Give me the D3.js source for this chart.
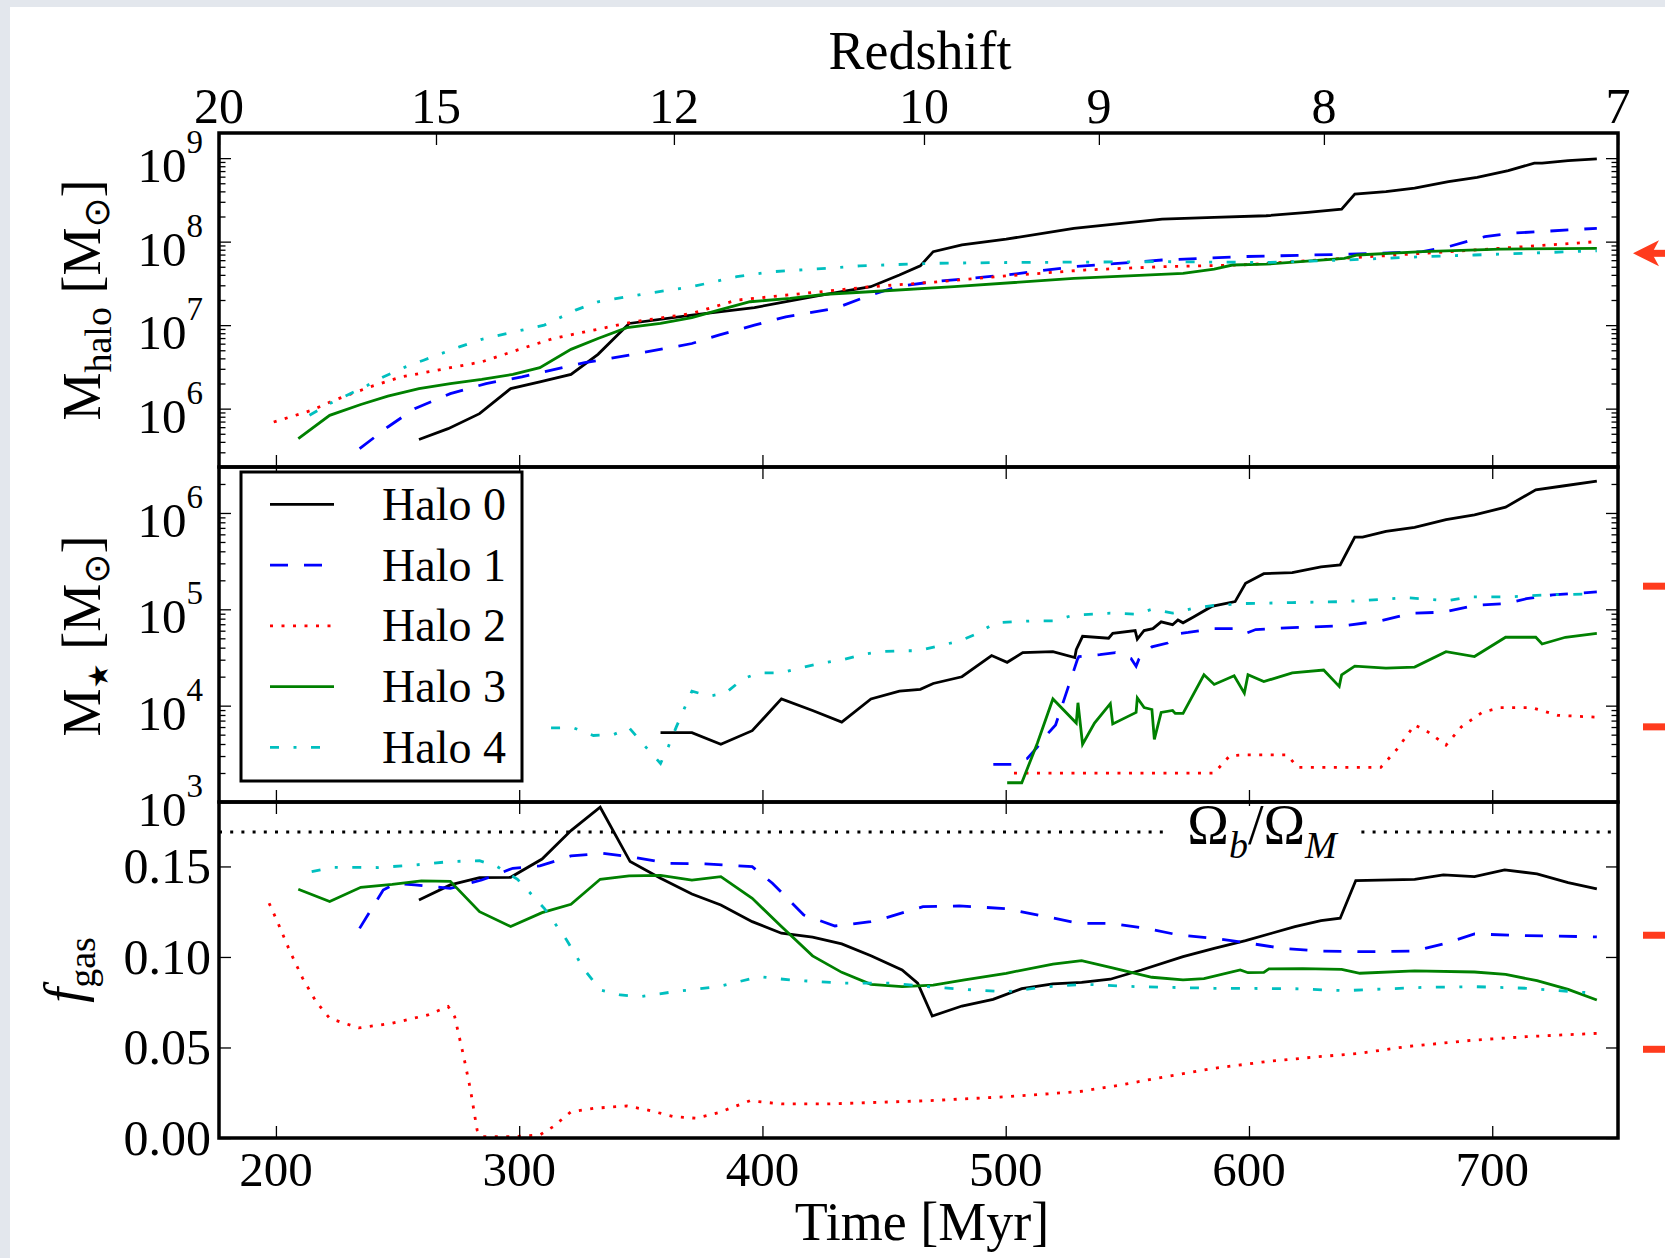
<!DOCTYPE html>
<html>
<head>
<meta charset="utf-8">
<script src="https://cdn.jsdelivr.net/npm/d3@7"></script>
<style>
body { margin: 0; background: #fff; }
svg text { font-family: "Liberation Serif", "Times New Roman", serif; fill: #000; }
</style>
</head>
<body>
<div id="chart"></div>
<script>
// ---- data: [time Myr, value]; mass panels hold log10(M / Msun) ----
var timeTicks = [200, 300, 400, 500, 600, 700];
var redshiftLabels = ["20", "15", "12", "10", "9", "8", "7"];
var redshiftAges = [176.6, 265.8, 363.6, 466.4, 538.3, 630.8, 751.7];
var haloNames = ["Halo 0", "Halo 1", "Halo 2", "Halo 3", "Halo 4"];
var haloColors = ["#000000", "#0000ff", "#ff0000", "#008000", "#00bfbf"];
var haloDashes = [null, "18 16", "3 8.5", null, "9 14.5 3 14.5"];
var baryonFraction = 0.169;

var halo0Mhalo = [[258.8,5.63],[270.8,5.76],[283.7,5.94],[296.5,6.24],[308.5,6.32],[321.3,6.41],[332.4,6.65],[345.2,7.02],[371,7.12],[396.7,7.21],[422.5,7.35],[444.5,7.46],[456.3,7.60],[464.9,7.71],[470.2,7.88],[482,7.96],[500.2,8.03],[528,8.16],[564.3,8.27],[585.7,8.29],[607.1,8.31],[624.2,8.35],[638.1,8.39],[643.5,8.57],[656.3,8.60],[668.1,8.64],[682,8.72],[693.8,8.77],[706.6,8.85],[717.3,8.94],[720.5,8.94],[731.2,8.97],[743,8.99]];
var halo1Mhalo = [[234.4,5.52],[246,5.78],[257,6.00],[271.7,6.18],[286.4,6.30],[301.1,6.38],[326.9,6.55],[345.2,6.64],[371,6.78],[382,6.88],[396.7,7.00],[409.6,7.10],[429.8,7.20],[444.5,7.36],[455.3,7.46],[470.2,7.52],[500.2,7.60],[528,7.70],[564.3,7.78],[596.4,7.82],[641.3,7.85],[671.3,7.88],[682,7.94],[697,8.06],[707.7,8.10],[743,8.16]];
var halo2Mhalo = [[199.1,5.84],[214.7,5.98],[223.9,6.10],[238.6,6.26],[251.5,6.38],[269.9,6.48],[284.6,6.56],[301.1,6.72],[314,6.84],[330.5,6.94],[347.1,7.04],[371,7.14],[389.4,7.30],[417,7.38],[444.5,7.46],[468.1,7.51],[500.2,7.59],[532.3,7.66],[564.3,7.70],[596.4,7.72],[628.5,7.78],[660.6,7.84],[692.7,7.90],[718.4,7.95],[743,8.00]];
var halo3Mhalo = [[209.2,5.64],[222.1,5.92],[234.9,6.05],[246,6.15],[258.8,6.24],[271.7,6.30],[284.6,6.35],[297.4,6.41],[308.5,6.49],[321.3,6.71],[332.4,6.84],[344.3,6.97],[358.1,7.02],[371,7.09],[382,7.18],[394.9,7.28],[411.4,7.32],[426.1,7.37],[444,7.40],[478.8,7.46],[528,7.56],[572.9,7.62],[585.7,7.67],[593.2,7.72],[607.1,7.73],[639.2,7.80],[644.6,7.84],[671.3,7.88],[703.4,7.91],[743,7.92]];
var halo4Mhalo = [[213.8,5.92],[222.1,6.06],[237.7,6.28],[244.1,6.38],[253.3,6.50],[260.7,6.58],[275.4,6.74],[284.6,6.83],[301.1,6.94],[310.3,7.00],[323.2,7.18],[332.4,7.28],[352.6,7.38],[371,7.46],[389.4,7.58],[404.1,7.64],[426.1,7.68],[440,7.71],[470.2,7.74],[500.2,7.75],[564.3,7.76],[607.1,7.75],[639.2,7.78],[671.3,7.82],[692.7,7.84],[743,7.89]];

var halo0Mstar = [[358.1,3.72],[371,3.72],[382.9,3.60],[395.8,3.74],[407.8,4.07],[420.6,3.95],[432.6,3.83],[444.6,4.07],[456.3,4.15],[464.9,4.17],[470.2,4.23],[482,4.30],[494.2,4.52],[500.6,4.45],[507,4.55],[519.4,4.56],[528.4,4.50],[529,4.58],[531.6,4.72],[542.3,4.70],[544,4.75],[553.2,4.78],[554.1,4.69],[556.9,4.78],[560.5,4.80],[563.9,4.87],[568.6,4.84],[570.8,4.89],[572.9,4.86],[577.2,4.92],[584.7,5.03],[594.3,5.08],[598.6,5.27],[606.1,5.37],[617.8,5.38],[629.6,5.44],[637.5,5.46],[643.5,5.75],[646.7,5.75],[656.3,5.81],[668.1,5.85],[681,5.93],[692.7,5.98],[705.5,6.06],[717.9,6.24],[729,6.28],[743,6.33]];
var halo1Mstar = [[494.9,3.39],[502.3,3.39],[508.8,3.45],[513,3.57],[517.3,3.71],[520.5,3.80],[525.8,4.20],[529.5,4.48],[530.1,4.51],[538.7,4.53],[545.1,4.55],[551.5,4.49],[553.6,4.41],[554.7,4.48],[560.1,4.61],[566.5,4.65],[571.8,4.75],[575,4.76],[585.7,4.80],[594.3,4.80],[598.6,4.75],[602.8,4.79],[617.8,4.81],[639.2,4.83],[654.2,4.88],[667,4.96],[679.9,4.97],[692.7,5.04],[705.5,5.06],[714.1,5.11],[724.8,5.15],[743,5.18]];
var halo2Mstar = [[503.4,3.30],[585.7,3.30],[592.1,3.48],[598.6,3.49],[615.7,3.49],[620,3.36],[654.2,3.36],[660.6,3.54],[668.1,3.80],[673.4,3.73],[681,3.59],[687.3,3.78],[695.9,3.93],[703.4,3.98],[716.2,3.98],[726.9,3.90],[743,3.88]];
var halo3Mstar = [[500.6,3.20],[506.6,3.20],[513,3.61],[519.4,4.07],[529,3.82],[529.7,4.03],[531.6,3.60],[536.5,3.82],[543,4.02],[544,3.81],[553.6,3.93],[554.1,4.08],[556.9,3.98],[560.1,3.96],[561.1,3.65],[563.9,3.93],[568.6,3.95],[569.7,3.92],[572.9,3.92],[581.5,4.32],[585.7,4.22],[593.9,4.31],[598.1,4.13],[599.6,4.32],[606.1,4.25],[617.8,4.34],[630.7,4.37],[637.1,4.20],[638.1,4.32],[643.5,4.41],[656.3,4.39],[668.1,4.40],[681,4.56],[692.7,4.51],[705.5,4.71],[717.9,4.71],[720.5,4.64],[730.1,4.71],[743,4.75]];
var halo4Mstar = [[313.1,3.77],[322.3,3.77],[330.5,3.69],[338.8,3.70],[345.2,3.77],[351.7,3.58],[358.1,3.40],[361.4,3.58],[364.6,3.78],[371,4.15],[378.3,4.10],[384.8,4.13],[392.1,4.28],[398.6,4.34],[407.8,4.34],[415.2,4.39],[424.3,4.44],[433.5,4.48],[440.9,4.53],[448.2,4.56],[457,4.57],[463.8,4.57],[480.9,4.67],[488.4,4.75],[495.9,4.86],[510.9,4.88],[519.4,4.88],[528,4.94],[543,4.96],[553.6,4.95],[560.1,5.00],[568.6,4.96],[577.2,5.01],[585.7,5.04],[598.6,5.06],[617.8,5.07],[639.2,5.08],[664.9,5.12],[682,5.09],[690.5,5.13],[707.7,5.13],[722.6,5.15],[743,5.16]];

var halo0Fgas = [[258.8,0.1315],[271.7,0.1398],[283.7,0.1438],[296.5,0.1440],[309.4,0.1541],[321.3,0.1698],[333.3,0.1827],[345.6,0.1527],[358.1,0.1435],[371,0.1348],[382.9,0.1287],[395.8,0.1195],[407.8,0.1131],[420.6,0.1109],[432.6,0.1072],[444.6,0.1007],[457.4,0.0928],[463.8,0.0855],[469.8,0.0674],[482,0.0729],[494.8,0.0766],[506.6,0.0825],[519.4,0.0851],[531.2,0.0860],[543,0.0877],[555.8,0.0928],[572.9,0.1002],[585.7,0.1048],[598.6,0.1090],[609.3,0.1131],[618.9,0.1168],[629.6,0.1201],[637.5,0.1214],[643.9,0.1422],[668.1,0.1429],[679.9,0.1453],[692.7,0.1444],[705.1,0.1481],[718.4,0.1459],[731.2,0.1411],[743,0.1376]];
var halo1Fgas = [[234.4,0.1158],[244.1,0.1370],[249.6,0.1407],[257,0.1398],[271.7,0.1379],[284.6,0.1425],[297.4,0.1490],[308.5,0.1503],[321.3,0.1558],[334.2,0.1573],[347.1,0.1551],[361.8,0.1517],[376.5,0.1514],[395.8,0.1499],[404.1,0.1407],[417,0.1232],[429.8,0.1171],[444.5,0.1195],[448.8,0.1208],[466,0.1278],[480.9,0.1282],[500.2,0.1267],[515.1,0.1227],[530.1,0.1186],[543,0.1186],[557.9,0.1158],[570.8,0.1122],[585.7,0.1103],[598.6,0.1079],[613.5,0.1048],[628.5,0.1033],[649.9,0.1029],[668.1,0.1033],[679.9,0.1072],[692.7,0.1127],[714.1,0.1118],[743,0.1111]];
var halo2Fgas = [[197.2,0.1297],[200.9,0.1186],[205.5,0.1039],[211,0.0882],[216.5,0.0753],[222.1,0.0661],[234,0.0608],[247.8,0.0634],[262.5,0.0680],[270.8,0.0726],[273.5,0.0670],[277.2,0.0449],[280,0.0265],[282.7,0.0044],[284.6,0.0007],[297.4,0.0007],[308.5,0.0017],[314,0.0063],[321.3,0.0145],[330.5,0.0164],[344.3,0.0177],[352.6,0.0155],[363.6,0.0118],[372.8,0.0109],[382,0.0140],[394.9,0.0206],[407.8,0.0188],[426.1,0.0188],[436,0.0192],[468.1,0.0206],[500.2,0.0228],[530.1,0.0256],[547.2,0.0293],[564.3,0.0335],[585.7,0.0385],[607.1,0.0422],[628.5,0.0449],[645.6,0.0468],[664.9,0.0505],[692.7,0.0541],[714.1,0.0560],[743,0.0578]];
var halo3Fgas = [[209.2,0.1374],[222.1,0.1306],[234.9,0.1385],[247.8,0.1401],[259.8,0.1420],[271.7,0.1418],[283.7,0.1250],[296.5,0.1168],[309.4,0.1245],[321.3,0.1291],[333.3,0.1429],[345.2,0.1448],[358.1,0.1451],[371,0.1425],[382.9,0.1444],[395.8,0.1324],[407.8,0.1168],[420.6,0.1006],[432.6,0.0915],[444.6,0.0849],[457.4,0.0836],[470.2,0.0845],[483.1,0.0873],[500.2,0.0910],[519.4,0.0961],[531.2,0.0980],[543,0.0943],[560.1,0.0888],[572.9,0.0873],[581.5,0.0880],[596.4,0.0928],[599.6,0.0913],[606.1,0.0915],[608.2,0.0934],[622.1,0.0936],[638.1,0.0932],[645.6,0.0910],[668.1,0.0923],[692.7,0.0917],[705.5,0.0904],[718.4,0.0869],[731.2,0.0821],[743,0.0762]];
var halo4Fgas = [[214.7,0.1471],[223.9,0.1495],[242.3,0.1494],[257,0.1508],[271.7,0.1527],[283.7,0.1532],[291,0.1499],[299.3,0.1429],[310.3,0.1269],[319.5,0.1094],[326.9,0.0928],[333.3,0.0818],[341.6,0.0790],[349.8,0.0781],[363.6,0.0808],[382,0.0836],[398.6,0.0891],[411.4,0.0873],[433.5,0.0855],[453.1,0.0855],[468.1,0.0836],[483.1,0.0821],[500.2,0.0808],[517.3,0.0836],[532.3,0.0849],[553.6,0.0836],[585.7,0.0827],[617.8,0.0825],[639.2,0.0814],[671.3,0.0832],[692.7,0.0836],[714.1,0.0827],[743,0.0799]];

// red slide markers (arrow in top panel, dashes in the others)
var arrowMhalo = [7.86];
var dashMstar = [5.24, 3.78];
var dashFgas = [0.112, 0.049];

var W = 1665, H = 1258;
var left = 219, right = 1618;

var svg = d3.select("#chart").append("svg")
    .attr("width", W).attr("height", H);

svg.append("rect").attr("width", W).attr("height", H).attr("fill", "#e3e7ed");
svg.append("rect").attr("x", 10).attr("y", 7).attr("width", W - 10).attr("height", H - 7).attr("fill", "#fff");

var x = d3.scaleLinear().domain([176.6, 751.7]).range([left, right]);
var yHalo = d3.scaleLog().domain([2e5, 2e9]).range([467, 133]);
var yStar = d3.scaleLog().domain([1e3, 3e6]).range([802, 467]);
var yGas = d3.scaleLinear().domain([0, 0.1856]).range([1138, 802]);

var panels = [
  { y: yHalo, top: 133, bottom: 467, log: true, series: [halo0Mhalo, halo1Mhalo, halo2Mhalo, halo3Mhalo, halo4Mhalo], major: [1e6, 1e7, 1e8, 1e9] },
  { y: yStar, top: 467, bottom: 802, log: true, series: [halo0Mstar, halo1Mstar, halo2Mstar, halo3Mstar, halo4Mstar], major: [1e3, 1e4, 1e5, 1e6] },
  { y: yGas, top: 802, bottom: 1138, log: false, series: [halo0Fgas, halo1Fgas, halo2Fgas, halo3Fgas, halo4Fgas], major: [0, 0.05, 0.1, 0.15] }
];

function minorTicks(scale) {
  var d = scale.domain(), out = [];
  for (var e = Math.floor(Math.log10(d[0])); e <= Math.ceil(Math.log10(d[1])); e++) {
    for (var m = 2; m <= 9; m++) {
      var v = m * Math.pow(10, e);
      if (v > d[0] && v < d[1]) out.push(v);
    }
  }
  return out;
}

function styleAxis(g) {
  g.select(".domain").remove();
  g.selectAll(".tick line").attr("stroke", "#000").attr("stroke-width", 1.3);
  g.selectAll(".tick text").remove();
}

panels.forEach(function(p, pi) {
  var g = svg.append("g");
  var clipId = "clip" + pi;
  svg.append("clipPath").attr("id", clipId).append("rect")
      .attr("x", left).attr("y", p.top).attr("width", right - left).attr("height", p.bottom - p.top);

  // Omega_b / Omega_M reference line
  if (!p.log) {
    g.append("line")
        .attr("x1", left).attr("x2", right)
        .attr("y1", p.y(baryonFraction)).attr("y2", p.y(baryonFraction))
        .attr("stroke", "#000").attr("stroke-width", 3).attr("stroke-dasharray", "3 8.2");
  }

  var line = d3.line()
      .x(function(d) { return x(d[0]); })
      .y(function(d) { return p.log ? p.y(Math.pow(10, d[1])) : p.y(d[1]); });

  p.series.forEach(function(s, i) {
    g.append("path")
        .attr("clip-path", "url(#" + clipId + ")")
        .attr("d", line(s))
        .attr("fill", "none")
        .attr("stroke", haloColors[i])
        .attr("stroke-width", 2.8)
        .attr("stroke-linejoin", "miter")
        .attr("stroke-dasharray", haloDashes[i]);
  });

  // ticks, all pointing inward
  g.append("g").attr("transform", "translate(0," + p.bottom + ")")
      .call(d3.axisBottom(x).tickValues(timeTicks).tickSize(-12).tickSizeOuter(0).tickFormat(""))
      .call(styleAxis);
  if (pi === 0) {
    g.append("g").attr("transform", "translate(0," + p.top + ")")
        .call(d3.axisTop(x).tickValues(redshiftAges).tickSize(-12).tickSizeOuter(0).tickFormat(""))
        .call(styleAxis);
  } else {
    g.append("g").attr("transform", "translate(0," + p.top + ")")
        .call(d3.axisTop(x).tickValues(timeTicks).tickSize(-12).tickSizeOuter(0).tickFormat(""))
        .call(styleAxis);
  }
  g.append("g").attr("transform", "translate(" + left + ",0)")
      .call(d3.axisLeft(p.y).tickValues(p.major).tickSize(-12).tickSizeOuter(0).tickFormat(""))
      .call(styleAxis);
  g.append("g").attr("transform", "translate(" + right + ",0)")
      .call(d3.axisRight(p.y).tickValues(p.major).tickSize(-12).tickSizeOuter(0).tickFormat(""))
      .call(styleAxis);
  if (p.log) {
    g.append("g").attr("transform", "translate(" + left + ",0)")
        .call(d3.axisLeft(p.y).tickValues(minorTicks(p.y)).tickSize(-6.5).tickSizeOuter(0).tickFormat(""))
        .call(styleAxis);
    g.append("g").attr("transform", "translate(" + right + ",0)")
        .call(d3.axisRight(p.y).tickValues(minorTicks(p.y)).tickSize(-6.5).tickSizeOuter(0).tickFormat(""))
        .call(styleAxis);
  }

  g.append("rect")
      .attr("x", left).attr("y", p.top)
      .attr("width", right - left).attr("height", p.bottom - p.top)
      .attr("fill", "none").attr("stroke", "#000").attr("stroke-width", 3.5);

  // y tick labels
  p.major.forEach(function(v) {
    if (p.log) {
      var t = svg.append("text")
          .attr("x", 203).attr("y", p.y(v) + 24)
          .attr("text-anchor", "end").style("font-size", "49px");
      t.append("tspan").text("10");
      t.append("tspan").attr("dy", -29).style("font-size", "33px").text(Math.round(Math.log10(v)));
    } else {
      svg.append("text")
          .attr("x", 211).attr("y", p.y(v) + 17)
          .attr("text-anchor", "end").style("font-size", "50px")
          .text(d3.format(".2f")(v));
    }
  });
});

// bottom time labels
timeTicks.forEach(function(t) {
  svg.append("text").attr("x", x(t)).attr("y", 1186)
      .attr("text-anchor", "middle").style("font-size", "49px").text(t);
});
svg.append("text").attr("x", 922).attr("y", 1240)
    .attr("text-anchor", "middle").style("font-size", "54px").text("Time [Myr]");

// top redshift labels
redshiftAges.forEach(function(t, i) {
  svg.append("text").attr("x", x(t)).attr("y", 123)
      .attr("text-anchor", "middle").style("font-size", "50px").text(redshiftLabels[i]);
});
svg.append("text").attr("x", 920).attr("y", 69)
    .attr("text-anchor", "middle").style("font-size", "54px").text("Redshift");

// y axis labels
function yLabel(cx, cy, build) {
  var t = svg.append("text")
      .attr("transform", "translate(" + cx + "," + cy + ") rotate(-90)")
      .attr("text-anchor", "middle").style("font-size", "54px");
  build(t);
}
yLabel(100, 300, function(t) {
  t.append("tspan").text("M");
  t.append("tspan").attr("dy", 11).style("font-size", "38px").text("halo");
  t.append("tspan").attr("dy", -11).text(" [M");
  t.append("tspan").attr("dy", 9).style("font-size", "36px").style("font-family", "DejaVu Sans").text("\u2299");
  t.append("tspan").attr("dy", -9).text("]");
});
yLabel(100, 636, function(t) {
  t.append("tspan").text("M");
  t.append("tspan").attr("dy", 8).style("font-size", "28px").style("font-family", "DejaVu Sans").text("\u2605");
  t.append("tspan").attr("dy", -8).text(" [M");
  t.append("tspan").attr("dy", 9).style("font-size", "36px").style("font-family", "DejaVu Sans").text("\u2299");
  t.append("tspan").attr("dy", -9).text("]");
});
yLabel(82, 970, function(t) {
  t.append("tspan").style("font-style", "italic").text("f");
  t.append("tspan").attr("dy", 13).style("font-size", "38px").text("gas");
});

// Omega_b / Omega_M label with white box
svg.append("rect").attr("x", 1165).attr("y", 806).attr("width", 192).attr("height", 54).attr("fill", "#fff");
var om = svg.append("text").attr("x", 1262).attr("y", 844)
    .attr("text-anchor", "middle").style("font-size", "56px");
om.append("tspan").text("\u03A9");
om.append("tspan").attr("dy", 14).style("font-size", "38px").style("font-style", "italic").text("b");
om.append("tspan").attr("dy", -14).text("/\u03A9");
om.append("tspan").attr("dy", 14).style("font-size", "38px").style("font-style", "italic").text("M");

// legend
var lg = svg.append("g");
lg.append("rect").attr("x", 241).attr("y", 472).attr("width", 281).attr("height", 309)
    .attr("fill", "#fff").attr("stroke", "#000").attr("stroke-width", 3);
haloNames.forEach(function(name, i) {
  var ly = 504.3 + i * 60.75;
  lg.append("line").attr("x1", 270).attr("x2", 334).attr("y1", ly).attr("y2", ly)
      .attr("stroke", haloColors[i]).attr("stroke-width", 2.8)
      .attr("stroke-dasharray", haloDashes[i]);
  lg.append("text").attr("x", 382).attr("y", ly + 15.5).style("font-size", "46px").text(name);
});

// red slide markers on the right margin
var red = "#ff3b1d";
arrowMhalo.forEach(function(v) {
  var ay = yHalo(Math.pow(10, v));
  svg.append("rect").attr("x", 1648).attr("y", ay - 3.5).attr("width", 17).attr("height", 7).attr("fill", red);
  svg.append("path")
      .attr("d", "M1633," + ay + " L1659," + (ay - 13) + " L1652," + ay + " L1659," + (ay + 13) + " Z")
      .attr("fill", red);
});
dashMstar.forEach(function(v) {
  svg.append("rect").attr("x", 1643).attr("y", yStar(Math.pow(10, v)) - 3.5)
      .attr("width", 22).attr("height", 7).attr("fill", red);
});
dashFgas.forEach(function(v) {
  svg.append("rect").attr("x", 1643).attr("y", yGas(v) - 3.5)
      .attr("width", 22).attr("height", 7).attr("fill", red);
});
</script>
</body>
</html>
